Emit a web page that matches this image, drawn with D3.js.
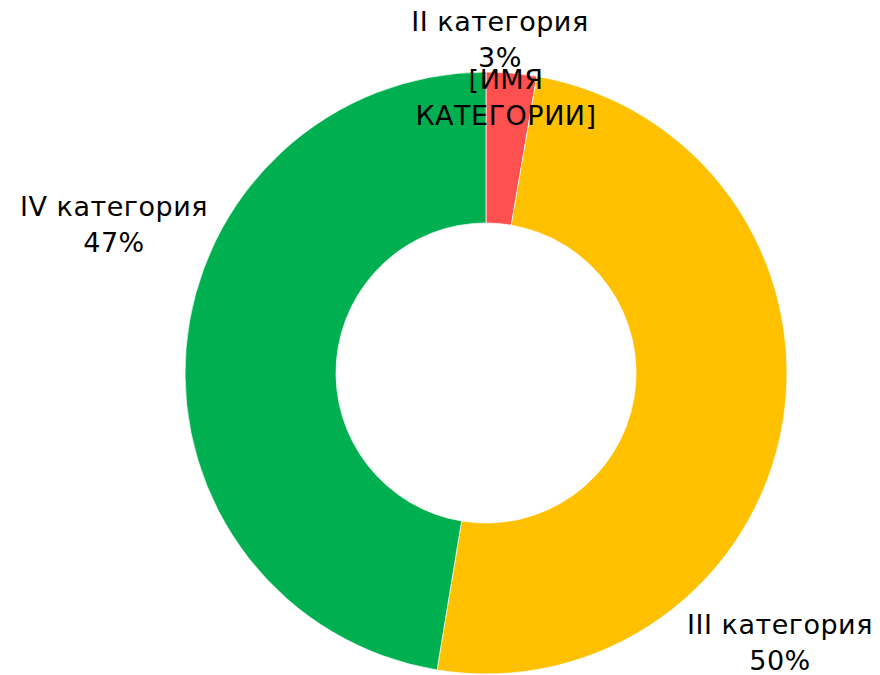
<!DOCTYPE html>
<html>
<head>
<meta charset="utf-8">
<script src="https://cdn.jsdelivr.net/npm/d3@7"></script>
<style>
  body { margin: 0; background: #fff; }
  text { font-family: "DejaVu Sans", sans-serif; fill: #000; }
</style>
</head>
<body>
<div id="chart"></div>
<script>
// data (clockwise from 12 o'clock)
var categories = ['[ИМЯ КАТЕГОРИИ]', 'II категория', 'III категория', 'IV категория'];
var values     = [0, 2.7, 49.9, 47.4];
var percents   = ['', '3%', '50%', '47%'];
var colors     = ['#4472C4', '#FF5050', '#FFC000', '#00B050'];

var width = 880, height = 675;
var cx = 486, cy = 373;
var outerR = 301, innerR = 150;

// where excel put each label (centre of the text block)
var labelPos = [[506, 80], [500, 22], [780, 625], [114, 207]];

var svg = d3.select('#chart').append('svg')
    .attr('width', width)
    .attr('height', height);

var g = svg.append('g')
    .attr('transform', 'translate(' + cx + ',' + cy + ')');

var pie = d3.pie().sort(null).value(function(d) { return d; });
var arc = d3.arc().innerRadius(innerR).outerRadius(outerR);

var slices = pie(values);

g.selectAll('path')
    .data(slices)
    .enter().append('path')
    .attr('d', arc)
    .attr('fill', function(d, i) { return colors[i]; })
    .attr('stroke', '#fff')
    .attr('stroke-width', 0.7);

// labels
var lines = categories.map(function(c, i) {
    if (i === 0) return ['[ИМЯ', 'КАТЕГОРИИ]'];
    return [c, percents[i]];
});

var lbl = svg.selectAll('text.lbl')
    .data(lines)
    .enter().append('text')
    .attr('class', 'lbl')
    .attr('text-anchor', 'middle')
    .style('font-size', '27px')
    .style('letter-spacing', '0.5px')
    .attr('transform', function(d, i) {
        return 'translate(' + labelPos[i][0] + ',' + labelPos[i][1] + ')';
    });

lbl.selectAll('tspan')
    .data(function(d) { return d; })
    .enter().append('tspan')
    .attr('x', 0)
    .attr('y', function(d, i) { return i * 36; })
    .attr('dy', '0.35em')
    .text(function(d) { return d; });
</script>
</body>
</html>
